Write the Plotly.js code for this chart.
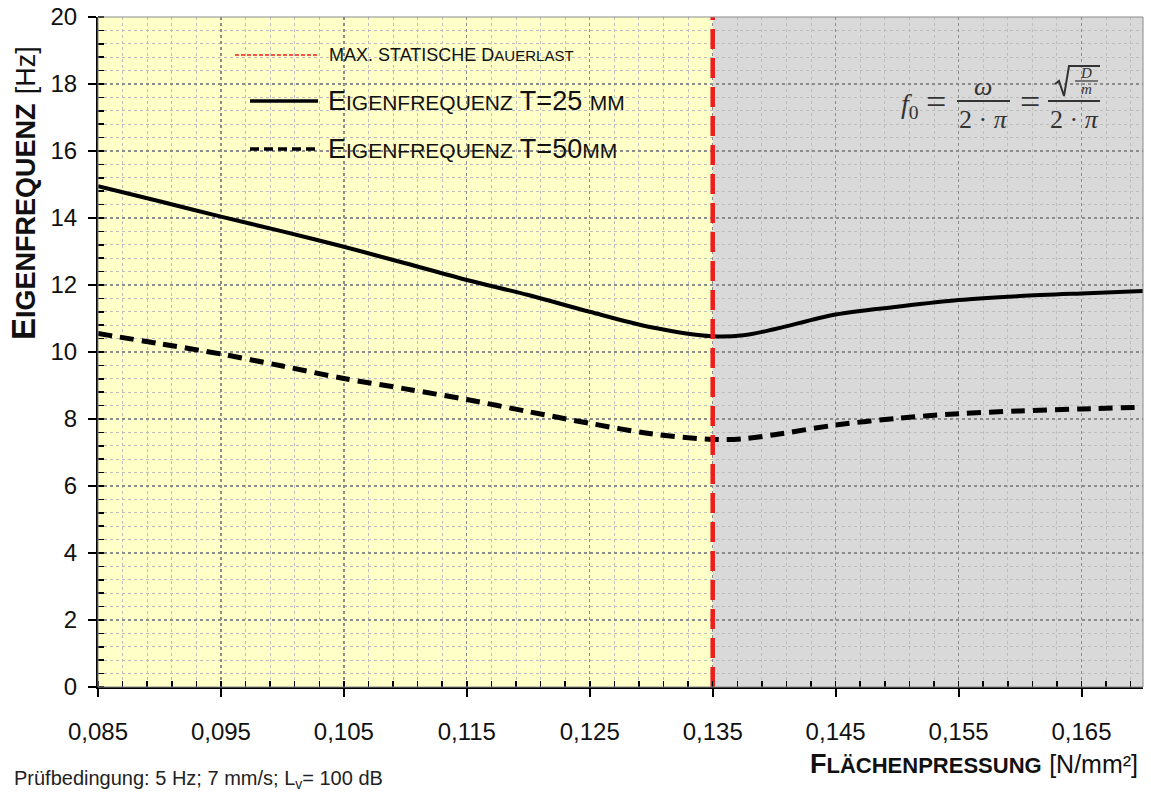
<!DOCTYPE html>
<html>
<head>
<meta charset="utf-8">
<script src="https://cdn.plot.ly/plotly-3.0.1.min.js"></script>
<style>html,body{margin:0;padding:0;background:#fff;}#chart{width:1151px;height:794px;}</style>
</head>
<body>
<div id="chart"></div>
<script>
// ---- data ----
const pressure = [0.085,0.09,0.095,0.1,0.105,0.11,0.115,0.12,0.125,0.13,0.135,0.1375,0.14,0.145,0.15,0.155,0.16,0.165,0.17];
const freqT25  = [14.95,14.5,14.04,13.6,13.14,12.65,12.15,11.7,11.2,10.74,10.47,10.5,10.68,11.12,11.35,11.55,11.67,11.75,11.82];
const freqT50  = [10.55,10.25,9.94,9.58,9.21,8.9,8.58,8.22,7.87,7.56,7.39,7.41,7.53,7.82,8.02,8.16,8.24,8.3,8.35];
const staticLimit = 0.135;
const xRange = [0.085, 0.17];
const yRange = [0, 20];
const xTicks = [0.085,0.095,0.105,0.115,0.125,0.135,0.145,0.155,0.165];
const yTicks = [0,2,4,6,8,10,12,14,16,18,20];

// ---- layout helpers (pixel -> paper) ----
const W = 1151, H = 794, ML = 98, MR = 8, MT = 17, MB = 107;
const PW = W - ML - MR, PH = H - MT - MB;
const px = x => (x - ML) / PW;
const py = y => (H - MB - y) / PH;

const FONT = 'Liberation Sans, Arial, Helvetica, sans-serif';
const SERIF = 'Liberation Serif, Times New Roman, serif';

const traces = [
  {x: pressure, y: freqT25, type: 'scatter', mode: 'lines', line: {color: '#000', width: 4, shape: 'spline', smoothing: 0.9}, name: 'T=25', hoverinfo: 'skip'},
  {x: pressure, y: freqT50, type: 'scatter', mode: 'lines', line: {color: '#000', width: 5, shape: 'spline', smoothing: 0.9, dash: '14px,8px'}, name: 'T=50', hoverinfo: 'skip'},
  {x: [staticLimit, staticLimit], y: yRange, type: 'scatter', mode: 'lines', line: {color: '#ee1c1c', width: 4.5, dash: '20px,9px'}, name: 'limit', hoverinfo: 'skip'}
];

const shapes = [
  {type: 'rect', xref: 'x', yref: 'paper', x0: xRange[0], x1: staticLimit, y0: 0, y1: 1, fillcolor: '#ffffc8', line: {width: 0}, layer: 'below'},
  {type: 'rect', xref: 'x', yref: 'paper', x0: staticLimit, x1: xRange[1], y0: 0, y1: 1, fillcolor: '#d9d9d9', line: {width: 0}, layer: 'below'},
  {type: 'rect', xref: 'paper', yref: 'paper', x0: 0, x1: 1, y0: 0, y1: 1, line: {color: '#8a8a8a', width: 1}, layer: 'above'},
  // legend samples
  {type: 'line', xref: 'paper', yref: 'paper', x0: px(235), x1: px(318), y0: py(55), y1: py(55), line: {color: '#ee1c1c', width: 1.5, dash: '4px,2px'}},
  {type: 'line', xref: 'paper', yref: 'paper', x0: px(250), x1: px(318), y0: py(101), y1: py(101), line: {color: '#000', width: 3.5}},
  {type: 'line', xref: 'paper', yref: 'paper', x0: px(250), x1: px(318), y0: py(149), y1: py(149), line: {color: '#000', width: 3.5, dash: '9px,5px'}},
  // formula fraction bars and root sign
  {type: 'line', xref: 'paper', yref: 'paper', x0: px(957), x1: px(1010), y0: py(101), y1: py(101), line: {color: '#333', width: 1.8}},
  {type: 'line', xref: 'paper', yref: 'paper', x0: px(1048), x1: px(1100), y0: py(101), y1: py(101), line: {color: '#333', width: 1.8}},
  {type: 'path', xref: 'paper', yref: 'paper', path: 'M' + px(1055) + ',' + py(84) + ' L' + px(1059) + ',' + py(81) + ' L' + px(1064) + ',' + py(96) + ' L' + px(1069) + ',' + py(66) + ' L' + px(1100) + ',' + py(66), line: {color: '#333', width: 2}},
  {type: 'line', xref: 'paper', yref: 'paper', x0: px(1075), x1: px(1098), y0: py(81), y1: py(81), line: {color: '#333', width: 1.2}}
];

const ann = (x, y, text, opts) => Object.assign({xref: 'paper', yref: 'paper', x: px(x), y: py(y), text: text, showarrow: false, xanchor: 'left', yanchor: 'middle', font: {family: FONT, size: 20, color: '#111'}}, opts || {});

const annotations = [
  ann(23, 193, "<b>E<span style='font-size:27px'>IGENFREQUENZ</span></b> <span style='font-size:27px'>[Hz]</span>", {xanchor: 'center', textangle: -90, font: {family: FONT, size: 33, color: '#111'}}),
  ann(1140, 764, "<b>F<span style='font-size:22px'>LÄCHENPRESSUNG</span></b> <span style='font-size:25px'>[N/mm²]</span>", {xanchor: 'right', font: {family: FONT, size: 27, color: '#111'}}),
  ann(12, 779, "Prüfbedingung: 5 Hz; 7 mm/s; L<sub>v</sub>= 100 dB", {font: {family: FONT, size: 20, color: '#222'}}),
  ann(327, 55, "MAX. STATISCHE D<span style='font-size:15px'>AUERLAST</span>", {font: {family: FONT, size: 18, color: '#111'}}),
  ann(326, 101, "E<span style='font-size:21px'>IGENFREQUENZ</span> T=25 <span style='font-size:21px'>MM</span>", {font: {family: FONT, size: 27, color: '#111'}}),
  ann(326, 149, "E<span style='font-size:21px'>IGENFREQUENZ</span> T=50<span style='font-size:21px'>MM</span>", {font: {family: FONT, size: 27, color: '#111'}}),
  // formula
  ann(910, 106, "<i>f</i><sub>0</sub>", {xanchor: 'center', font: {family: SERIF, size: 28, color: '#333'}}),
  ann(936, 102, "=", {xanchor: 'center', font: {family: SERIF, size: 36, color: '#333'}}),
  ann(983, 86, "<i>ω</i>", {xanchor: 'center', font: {family: SERIF, size: 26, color: '#333'}}),
  ann(983, 119, "2 · <i>π</i>", {xanchor: 'center', font: {family: SERIF, size: 26, color: '#333'}}),
  ann(1030, 102, "=", {xanchor: 'center', font: {family: SERIF, size: 36, color: '#333'}}),
  ann(1086, 73, "<i>D</i>", {xanchor: 'center', font: {family: SERIF, size: 15, color: '#333'}}),
  ann(1086, 89, "<i>m</i>", {xanchor: 'center', font: {family: SERIF, size: 15, color: '#333'}}),
  ann(1074, 119, "2 · <i>π</i>", {xanchor: 'center', font: {family: SERIF, size: 26, color: '#333'}})
];

const layout = {
  width: W, height: H,
  margin: {l: ML, r: MR, t: MT, b: MB, pad: 0},
  paper_bgcolor: '#fff', plot_bgcolor: 'rgba(0,0,0,0)',
  separators: ',.',
  showlegend: false,
  font: {family: FONT, size: 24, color: '#111'},
  xaxis: {
    range: xRange, tickvals: xTicks, tickformat: '.3f',
    showline: true, linecolor: '#000', linewidth: 2,
    ticks: 'outside', ticklen: 8, tickwidth: 2, tickcolor: '#000',
    ticklabelstandoff: 14,
    showgrid: true, gridcolor: '#8c8c8c', griddash: 'dot', gridwidth: 1.3,
    zeroline: false,
    minor: {tick0: 0.085, dtick: 0.002, ticks: 'inside', ticklen: 6, tickwidth: 1.5, tickcolor: '#000', showgrid: true, gridcolor: '#bdbdbd', griddash: 'dot', gridwidth: 1}
  },
  yaxis: {
    range: yRange, tickvals: yTicks,
    showline: true, linecolor: '#000', linewidth: 2,
    ticks: 'outside', ticklen: 8, tickwidth: 2, tickcolor: '#000',
    ticklabelstandoff: 6,
    showgrid: true, gridcolor: '#8c8c8c', griddash: 'dot', gridwidth: 1.3,
    zeroline: false,
    minor: {tick0: 0, dtick: 0.4, ticks: 'inside', ticklen: 6, tickwidth: 1.5, tickcolor: '#000', showgrid: true, gridcolor: '#bdbdbd', griddash: 'dot', gridwidth: 1}
  },
  shapes: shapes,
  annotations: annotations
};

Plotly.newPlot('chart', traces, layout, {staticPlot: true, displayModeBar: false});
</script>
</body>
</html>
